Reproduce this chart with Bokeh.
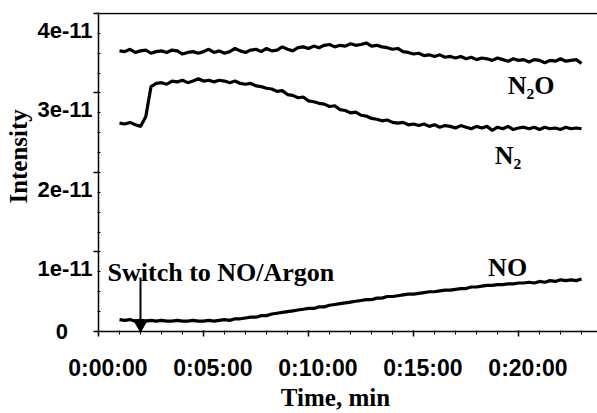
from bokeh.plotting import figure
from bokeh.models import (LinearAxis, Range1d, FixedTicker, ColumnDataSource, Label)
from bokeh.embed import file_html
from bokeh.resources import INLINE

# ---------------- data (intensity in units of 1e-11) ----------------
time_min = [1.00, 1.25, 1.50, 1.75, 2.00, 2.25, 2.50, 2.75, 3.00, 3.25,
            3.50, 3.75, 4.00, 4.25, 4.50, 4.75, 5.00, 5.25, 5.50, 5.75,
            6.00, 6.25, 6.50, 6.75, 7.00, 7.25, 7.50, 7.75, 8.00, 8.25,
            8.50, 8.75, 9.00, 9.25, 9.50, 9.75, 10.00, 10.25, 10.50, 10.75,
            11.00, 11.25, 11.50, 11.75, 12.00, 12.25, 12.50, 12.75, 13.00, 13.25,
            13.50, 13.75, 14.00, 14.25, 14.50, 14.75, 15.00, 15.25, 15.50, 15.75,
            16.00, 16.25, 16.50, 16.75, 17.00, 17.25, 17.50, 17.75, 18.00, 18.25,
            18.50, 18.75, 19.00, 19.25, 19.50, 19.75, 20.00, 20.25, 20.50, 20.75,
            21.00, 21.25, 21.50, 21.75, 22.00, 22.25, 22.50, 22.75, 23.00]

n2o = [3.53, 3.52, 3.55, 3.51, 3.53, 3.54, 3.50, 3.52, 3.53, 3.51,
       3.54, 3.53, 3.49, 3.51, 3.52, 3.50, 3.52, 3.55, 3.51, 3.53,
       3.50, 3.52, 3.56, 3.53, 3.51, 3.54, 3.55, 3.52, 3.56, 3.53,
       3.54, 3.58, 3.55, 3.53, 3.57, 3.58, 3.56, 3.59, 3.57, 3.60,
       3.61, 3.58, 3.60, 3.59, 3.62, 3.60, 3.61, 3.63, 3.59, 3.60,
       3.58, 3.57, 3.55, 3.56, 3.52, 3.51, 3.49, 3.50, 3.47, 3.48,
       3.46, 3.48, 3.45, 3.46, 3.44, 3.46, 3.43, 3.45, 3.42, 3.44,
       3.43, 3.41, 3.44, 3.42, 3.40, 3.43, 3.41, 3.42, 3.39, 3.42,
       3.41, 3.38, 3.41, 3.40, 3.43, 3.40, 3.41, 3.42, 3.37]

n2 = [2.62, 2.61, 2.63, 2.60, 2.58, 2.70, 3.08, 3.12, 3.13, 3.11,
      3.15, 3.14, 3.16, 3.13, 3.15, 3.18, 3.15, 3.16, 3.14, 3.16,
      3.15, 3.13, 3.15, 3.12, 3.11, 3.12, 3.09, 3.08, 3.06, 3.05,
      3.02, 3.03, 2.98, 2.97, 2.94, 2.95, 2.90, 2.89, 2.87, 2.86,
      2.83, 2.84, 2.79, 2.78, 2.75, 2.76, 2.72, 2.71, 2.68, 2.67,
      2.65, 2.66, 2.63, 2.62, 2.63, 2.60, 2.61, 2.59, 2.61, 2.58,
      2.60, 2.57, 2.59, 2.58, 2.56, 2.59, 2.57, 2.55, 2.58, 2.56,
      2.58, 2.53, 2.57, 2.55, 2.58, 2.54, 2.56, 2.57, 2.55, 2.57,
      2.54, 2.57, 2.55, 2.56, 2.54, 2.57, 2.55, 2.56, 2.55]

no = [0.15, 0.14, 0.15, 0.13, 0.14, 0.13, 0.14, 0.13, 0.14, 0.13,
      0.13, 0.14, 0.13, 0.13, 0.14, 0.13, 0.13, 0.14, 0.13, 0.14,
      0.15, 0.14, 0.16, 0.16, 0.17, 0.18, 0.18, 0.20, 0.20, 0.22,
      0.23, 0.24, 0.25, 0.26, 0.27, 0.28, 0.29, 0.29, 0.31, 0.31,
      0.33, 0.34, 0.35, 0.36, 0.37, 0.38, 0.39, 0.40, 0.40, 0.42,
      0.42, 0.44, 0.44, 0.45, 0.46, 0.47, 0.47, 0.48, 0.49, 0.50,
      0.50, 0.51, 0.52, 0.52, 0.53, 0.54, 0.54, 0.56, 0.56, 0.57,
      0.58, 0.58, 0.59, 0.59, 0.60, 0.60, 0.61, 0.61, 0.62, 0.61,
      0.63, 0.62, 0.64, 0.63, 0.65, 0.64, 0.65, 0.64, 0.66]

x_tick_values = [0, 5, 10, 15, 20]
x_tick_labels = ["0:00:00", "0:05:00", "0:10:00", "0:15:00", "0:20:00"]
y_tick_values = [0, 1, 2, 3, 4]
y_tick_labels = ["0", "1e-11", "2e-11", "3e-11", "4e-11"]
switch_time = 2.0
arrow_top = 0.68
series_labels = ["N\u2082O", "N\u2082", "NO"]

# ---------------- layout constants ----------------
X_END = 23.76
Y_END = 4.0125
XSHIFT = 0.45
YSHIFT = 0.213
SANS = "Liberation Sans"
SERIF = "Liberation Serif"
NB = "\u00a0"

p = figure(width=597, height=413, x_range=Range1d(0, X_END), y_range=Range1d(0, Y_END),
           output_backend="svg", toolbar_location=None,
           min_border_left=98, min_border_right=0, min_border_top=12, min_border_bottom=81,
           x_axis_type=None, y_axis_type=None)
p.outline_line_color = None
p.xgrid.visible = False
p.ygrid.visible = False

p.extra_x_ranges = {"xlab": Range1d(-XSHIFT, X_END - XSHIFT)}
p.extra_y_ranges = {"ylab": Range1d(YSHIFT, Y_END + YSHIFT)}

# x axis: line and ticks (its own labels hidden)
xt = LinearAxis(ticker=FixedTicker(ticks=x_tick_values, minor_ticks=list(range(0, 24))),
                major_label_standoff=0, major_label_text_font_size="1px",
                major_label_text_color=None,
                axis_line_width=1.5, axis_line_color="black",
                major_tick_out=5, major_tick_in=1, major_tick_line_width=1.5,
                major_tick_line_color="black",
                minor_tick_out=3, minor_tick_in=1, minor_tick_line_width=1,
                minor_tick_line_color="black")
p.add_layout(xt, "below")
# x axis: labels (set slightly right of their ticks, as in the original)
xl = LinearAxis(x_range_name="xlab", ticker=FixedTicker(ticks=x_tick_values, minor_ticks=[]),
                major_label_overrides={v: s for v, s in zip(x_tick_values, x_tick_labels)},
                axis_line_color=None, major_tick_line_color=None, minor_tick_line_color=None,
                major_tick_out=0, major_tick_in=0, minor_tick_out=0, minor_tick_in=0,
                major_label_standoff=18,
                major_label_text_font=SANS, major_label_text_font_style="bold",
                major_label_text_font_size="23px", major_label_text_color="black",
                axis_label="Time, min" + NB * 4, axis_label_standoff=0,
                axis_label_text_font=SERIF, axis_label_text_font_style="bold",
                axis_label_text_font_size="25px", axis_label_text_color="black")
p.add_layout(xl, "below")

# y axis: line and ticks (its own labels hidden)
yt = LinearAxis(ticker=FixedTicker(ticks=y_tick_values,
                                   minor_ticks=[i * 0.25 for i in range(17)]),
                major_label_standoff=0, major_label_text_font_size="1px",
                major_label_text_color=None,
                axis_line_width=1.5, axis_line_color="black",
                major_tick_out=5, major_tick_in=0, major_tick_line_width=1.5,
                major_tick_line_color="black",
                minor_tick_out=1, minor_tick_in=2, minor_tick_line_width=1,
                minor_tick_line_color="black")
p.add_layout(yt, "left")
# y axis: labels (set slightly below their ticks, as in the original)
ylab_ticks = [YSHIFT] + y_tick_values[1:]
ylab_text = [y_tick_labels[0] + NB * 4] + y_tick_labels[1:]
yl = LinearAxis(y_range_name="ylab", ticker=FixedTicker(ticks=ylab_ticks, minor_ticks=[]),
                major_label_overrides={v: s for v, s in zip(ylab_ticks, ylab_text)},
                axis_line_color=None, major_tick_line_color=None, minor_tick_line_color=None,
                major_tick_out=0, major_tick_in=0, minor_tick_out=0, minor_tick_in=0,
                major_label_standoff=1,
                major_label_text_font=SANS, major_label_text_font_style="bold",
                major_label_text_font_size="22px", major_label_text_color="black",
                axis_label=NB * 5 + "Intensity", axis_label_standoff=2,
                axis_label_text_font=SERIF, axis_label_text_font_style="bold",
                axis_label_text_font_size="25px", axis_label_text_color="black")
p.add_layout(yl, "left")

# top frame line, drawn as a glyph at the top tick value
p.hspan(y=[y_tick_values[-1]], line_color="black", line_width=1.5)

src = ColumnDataSource(dict(t=time_min, n2o=n2o, n2=n2, no=no))
for col in ["n2o", "n2", "no"]:
    p.line("t", col, source=src, line_color="black", line_width=3.2)

# switch arrow (shaft + head)
p.segment(x0=[switch_time], y0=[arrow_top], x1=[switch_time], y1=[0.1],
          line_color="black", line_width=2)
p.scatter(x=[switch_time], y=[0.095], marker="inverted_triangle", size=14,
          fill_color="black", line_color="black")

lab_kw = dict(text_font=SERIF, text_font_style="bold", text_font_size="26px",
              text_color="black", text_baseline="middle")
p.add_layout(Label(x=0.43, y=0.74, text="Switch to NO/Argon", text_align="left", **lab_kw))
p.add_layout(Label(x=20.6, y=3.10, text=series_labels[0], text_align="center", **lab_kw))
p.add_layout(Label(x=19.5, y=2.22, text=series_labels[1], text_align="center", **lab_kw))
p.add_layout(Label(x=19.48, y=0.80, text=series_labels[2], text_align="center", **lab_kw))

open("out.html", "w").write(file_html(p, INLINE))
